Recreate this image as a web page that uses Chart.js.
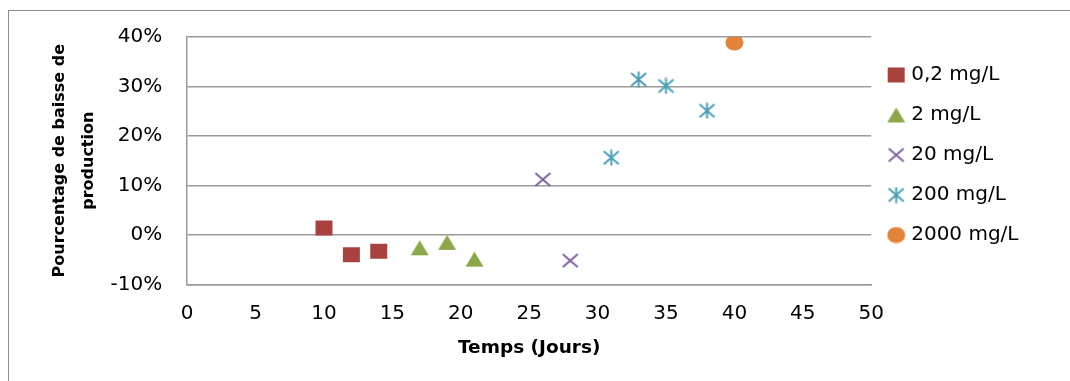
<!DOCTYPE html>
<html>
<head>
<meta charset="utf-8">
<script src="https://cdn.jsdelivr.net/npm/chart.js@4"></script>
<style>
  body { margin: 0; background: #fff; overflow: hidden; }
  #frame { position: absolute; left: 8px; top: 10px; width: 1062px; height: 371px; border-top: 1px solid #8c8c8c; border-left: 1px solid #8c8c8c; }
  #wrap { position: absolute; left: 0; top: 0; width: 1070px; height: 381px; }
</style>
</head>
<body>
<div id="frame"></div>
<div id="wrap"><canvas id="chart"></canvas></div>
<script>
var labels = ['0,2 mg/L', '2 mg/L', '20 mg/L', '200 mg/L', '2000 mg/L'];

// temps (jours) / pourcentage de baisse de production, per concentration
var days02 = [10, 12, 14];
var pct02 = [1.4, -4.0, -3.3];
var days2 = [17, 19, 21];
var pct2 = [-2.6, -1.5, -4.9];
var days20 = [26, 28];
var pct20 = [11.2, -5.2];
var days200 = [31, 33, 35, 38];
var pct200 = [15.6, 31.4, 30.1, 25.1];
var days2000 = [40];
var pct2000 = [38.9];

var colors = ['#a8423f', '#8aa84b', '#7d60a0', '#4a9fb8', '#e2833c'];

function points(xs, ys) {
    var out = [];
    for (var i = 0; i < xs.length; i++) {
        out.push({x: xs[i], y: ys[i]});
    }
    return out;
}

// excel-like markers drawn on small canvases
function marker(kind, color) {
    var c = document.createElement('canvas');
    var w = 19, h = 17;
    c.width = w; c.height = h;
    var g = c.getContext('2d');
    g.fillStyle = color;
    g.strokeStyle = color;
    g.lineWidth = 2;
    g.beginPath();
    if (kind == 'square') {
        g.fillRect(1, 1, w - 2, h - 2);
    } else if (kind == 'triangle') {
        g.moveTo(w / 2, 1);
        g.lineTo(w - 0.5, h - 1);
        g.lineTo(0.5, h - 1);
        g.closePath();
        g.fill();
    } else if (kind == 'cross') {
        g.moveTo(2, 2); g.lineTo(w - 2, h - 2);
        g.moveTo(w - 2, 2); g.lineTo(2, h - 2);
        g.stroke();
    } else if (kind == 'star') {
        g.moveTo(2, 2); g.lineTo(w - 2, h - 2);
        g.moveTo(w - 2, 2); g.lineTo(2, h - 2);
        g.moveTo(w / 2, 0.5); g.lineTo(w / 2, h - 0.5);
        g.stroke();
    } else {
        g.ellipse(w / 2, h / 2, w / 2 - 0.5, h / 2 - 0.5, 0, 0, Math.PI * 2);
        g.fill();
    }
    return c;
}

var kinds = ['square', 'triangle', 'cross', 'star', 'circle'];
var xs = [days02, days2, days20, days200, days2000];
var ys = [pct02, pct2, pct20, pct200, pct2000];

var datasets = [];
for (var i = 0; i < labels.length; i++) {
    datasets.push({
        label: labels[i],
        data: points(xs[i], ys[i]),
        pointStyle: marker(kinds[i], colors[i]),
        backgroundColor: colors[i],
        borderColor: colors[i],
        showLine: false
    });
}

Chart.defaults.font.family = 'DejaVu Sans';
Chart.defaults.color = '#000';

var ctx = document.getElementById('chart').getContext('2d');
var myChart = new Chart(ctx, {
    type: 'scatter',
    data: { datasets: datasets },
    options: {
        responsive: true,
        maintainAspectRatio: false,
        animation: false,
        layout: {
            padding: { left: 0, top: 35, right: 41.5, bottom: 21.4 }
        },
        plugins: {
            tooltip: { enabled: false },
            legend: {
                position: 'right',
                align: 'start',
                fullSize: false,
                title: { display: true, text: '', padding: 0, font: { size: 8, lineHeight: 1 } },
                labels: {
                    usePointStyle: true,
                    boxWidth: 10,
                    padding: 20,
                    font: { size: 20 },
                    color: '#000'
                }
            }
        },
        scales: {
            x: {
                min: 0,
                max: 50,
                ticks: { stepSize: 5, padding: 17, font: { size: 20 } },
                grid: { display: false, drawTicks: false },
                border: { display: true, color: '#9a9a9a', width: 1.5 },
                title: {
                    display: true,
                    text: 'Temps (Jours)',
                    padding: { top: -5, bottom: 0 },
                    font: { size: 18.5, weight: 'bold' }
                }
            },
            y: {
                min: -10,
                max: 40,
                ticks: {
                    stepSize: 10,
                    padding: 25,
                    font: { size: 20 },
                    callback: function (v) { return v + '%'; }
                },
                grid: { color: '#9a9a9a', lineWidth: 1.5, drawTicks: false },
                border: { display: true, color: '#9a9a9a', width: 1.5 },
                title: {
                    display: true,
                    text: ['Pourcentage de baisse de', 'production'],
                    padding: { top: 45.5, bottom: -18 },
                    font: { size: 16, weight: 'bold', lineHeight: '29px' }
                }
            }
        }
    }
});
</script>
</body>
</html>
